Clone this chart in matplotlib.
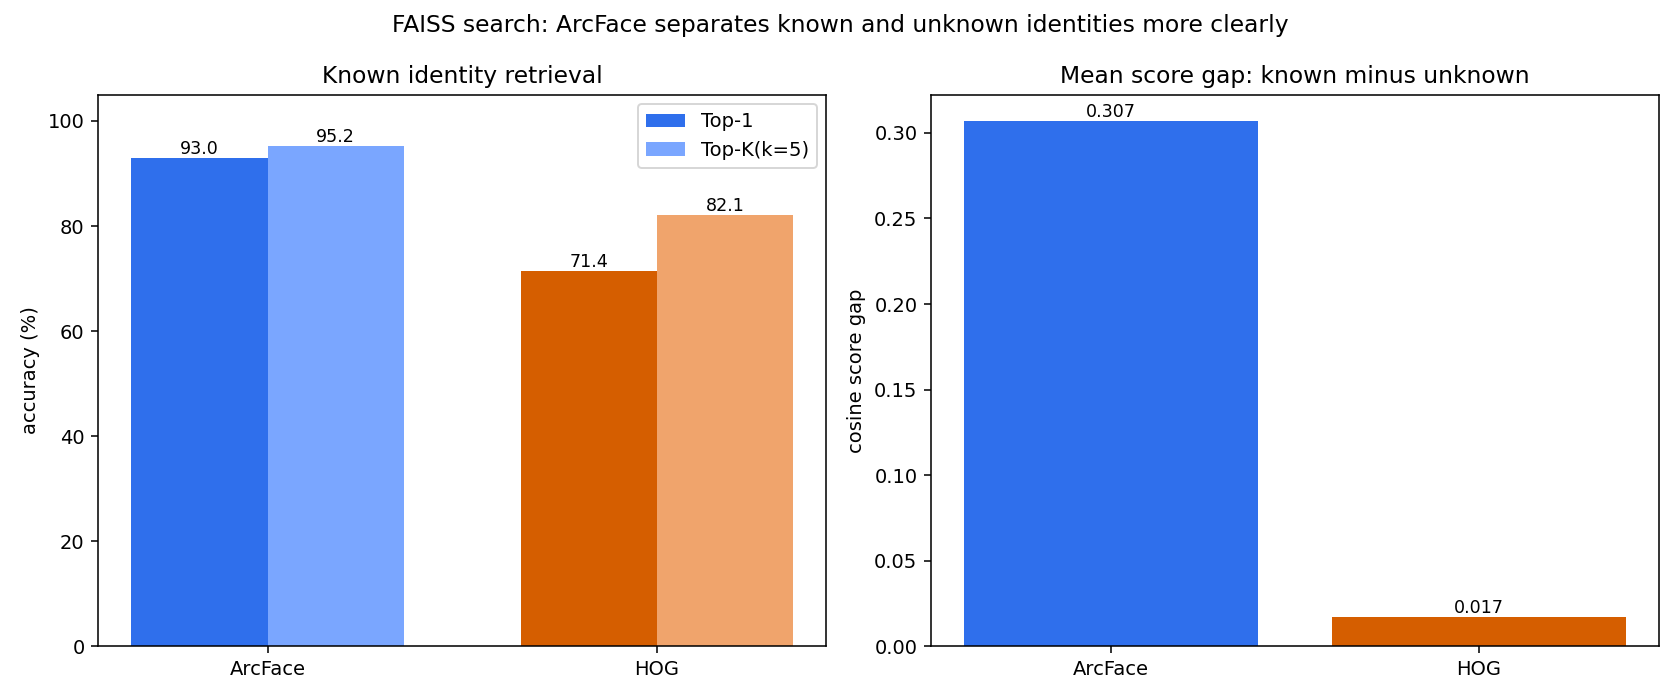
import matplotlib
matplotlib.use("Agg")
import matplotlib.pyplot as plt
import numpy as np

models = ["ArcFace", "HOG"]
top1 = [93.0, 71.4]
topk = [95.2, 82.1]
gap = [0.307, 0.017]

dark = ["#2f6fec", "#d55e00"]
light = ["#7aa6ff", "#f0a46c"]

fig, (ax1, ax2) = plt.subplots(1, 2, figsize=(12, 5), dpi=140)
x = np.arange(len(models))
w = 0.35
b1 = ax1.bar(x - w/2, top1, w, color=dark, label="Top-1")
b2 = ax1.bar(x + w/2, topk, w, color=light, label="Top-K(k=5)")
for bars, vals in ((b1, top1), (b2, topk)):
    for r, v in zip(bars, vals):
        ax1.text(r.get_x() + r.get_width()/2, v, f"{v:.1f}", ha="center", va="bottom", fontsize=9)
ax1.set_xticks(x)
ax1.set_xticklabels(models)
ax1.set_ylim(0, 105)
ax1.set_ylabel("accuracy (%)")
ax1.set_title("Known identity retrieval")
ax1.legend(loc="upper right")

b3 = ax2.bar(x, gap, 0.8, color=dark)
for r, v in zip(b3, gap):
    ax2.text(r.get_x() + r.get_width()/2, v, f"{v:.3f}", ha="center", va="bottom", fontsize=9)
ax2.set_xticks(x)
ax2.set_xticklabels(models)
ax2.set_ylabel("cosine score gap")
ax2.set_title("Mean score gap: known minus unknown")

fig.suptitle("FAISS search: ArcFace separates known and unknown identities more clearly")
fig.tight_layout()
fig.savefig("out.png")
